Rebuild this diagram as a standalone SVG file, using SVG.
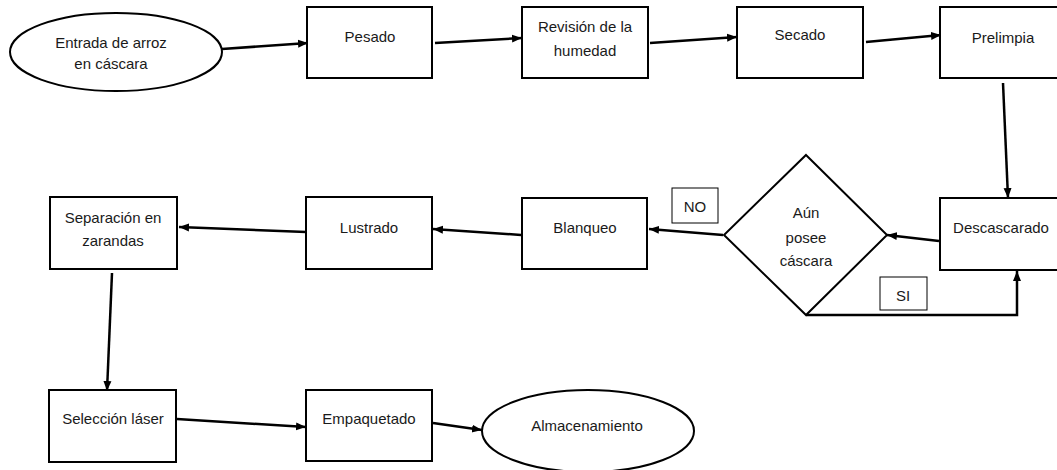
<svg xmlns="http://www.w3.org/2000/svg" width="1057" height="470" viewBox="0 0 1057 470">
<defs>
<style>
.n{fill:#fff;stroke:#000;stroke-width:2}
.lb{fill:#fff;stroke:#000;stroke-width:1}
.t{font-family:"Liberation Sans",Arial,sans-serif;font-size:15px;fill:#1a1a1a;text-anchor:middle;dominant-baseline:central}
.c{fill:none;stroke:#000;stroke-width:2.5}
</style>
<marker id="ah" markerUnits="userSpaceOnUse" markerWidth="10" markerHeight="10" viewBox="0 0 10 10" refX="10" refY="5" orient="auto">
<path d="M0,1 L10,5 L0,9 Z" fill="#000"/>
</marker>
</defs>
<rect width="1057" height="470" fill="#fff"/>

<g id="connectors">
<line class="c" x1="222" y1="49" x2="308" y2="43" marker-end="url(#ah)"/>
<line class="c" x1="435" y1="43" x2="522" y2="38" marker-end="url(#ah)"/>
<line class="c" x1="650" y1="43" x2="737" y2="37" marker-end="url(#ah)"/>
<line class="c" x1="866" y1="42" x2="941" y2="35" marker-end="url(#ah)"/>
<line class="c" x1="1003" y1="83" x2="1008" y2="198" marker-end="url(#ah)"/>
<line class="c" x1="939" y1="241" x2="887" y2="235" marker-end="url(#ah)"/>
<polyline class="c" points="806,315 1017,315 1017,271" marker-end="url(#ah)"/>
<line class="c" x1="723" y1="235" x2="649" y2="229" marker-end="url(#ah)"/>
<line class="c" x1="521" y1="235" x2="433" y2="229" marker-end="url(#ah)"/>
<line class="c" x1="306" y1="232" x2="179" y2="227" marker-end="url(#ah)"/>
<line class="c" x1="112" y1="273" x2="107" y2="391" marker-end="url(#ah)"/>
<line class="c" x1="177" y1="419" x2="306" y2="427" marker-end="url(#ah)"/>
<line class="c" x1="433" y1="423" x2="482" y2="430" marker-end="url(#ah)"/>
</g>

<g id="entrada">
<ellipse class="n" cx="116" cy="52" rx="106" ry="39"/>
<text class="t" x="111" y="42">Entrada de arroz</text>
<text class="t" x="111" y="63">en cáscara</text>
</g>
<g id="pesado">
<rect class="n" x="307" y="7" width="125" height="71"/>
<text class="t" x="370" y="36">Pesado</text>
</g>
<g id="revision">
<rect class="n" x="522" y="7" width="126" height="71"/>
<text class="t" x="585" y="26">Revisión de la</text>
<text class="t" x="585" y="50">humedad</text>
</g>
<g id="secado">
<rect class="n" x="737" y="7" width="126" height="71"/>
<text class="t" x="800" y="34">Secado</text>
</g>
<g id="prelimpia">
<rect class="n" x="940" y="7" width="126" height="71"/>
<text class="t" x="1003" y="37">Prelimpia</text>
</g>
<g id="descascarado">
<rect class="n" x="940" y="198" width="126" height="72"/>
<text class="t" x="1001" y="227">Descascarado</text>
</g>
<g id="decision">
<polygon class="n" points="806,155 887,235 806,315 724,235"/>
<text class="t" x="806" y="212">Aún</text>
<text class="t" x="806" y="237">posee</text>
<text class="t" x="806" y="260">cáscara</text>
</g>
<g id="label-no">
<rect class="lb" x="672" y="188" width="46" height="35"/>
<text class="t" x="695" y="206">NO</text>
</g>
<g id="label-si">
<rect class="lb" x="880" y="277" width="47" height="33"/>
<text class="t" x="903" y="295">SI</text>
</g>
<g id="blanqueo">
<rect class="n" x="522" y="198" width="125" height="71"/>
<text class="t" x="585" y="227">Blanqueo</text>
</g>
<g id="lustrado">
<rect class="n" x="306" y="197" width="126" height="72"/>
<text class="t" x="369" y="227">Lustrado</text>
</g>
<g id="separacion">
<rect class="n" x="50" y="197" width="127" height="72"/>
<text class="t" x="113" y="217">Separación en</text>
<text class="t" x="113" y="240">zarandas</text>
</g>
<g id="seleccion">
<rect class="n" x="49" y="390" width="127" height="72"/>
<text class="t" x="113" y="418">Selección láser</text>
</g>
<g id="empaquetado">
<rect class="n" x="306" y="390" width="126" height="71"/>
<text class="t" x="369" y="418">Empaquetado</text>
</g>
<g id="almacenamiento">
<ellipse class="n" cx="588" cy="431" rx="106" ry="41"/>
<text class="t" x="587" y="425">Almacenamiento</text>
</g>
</svg>
